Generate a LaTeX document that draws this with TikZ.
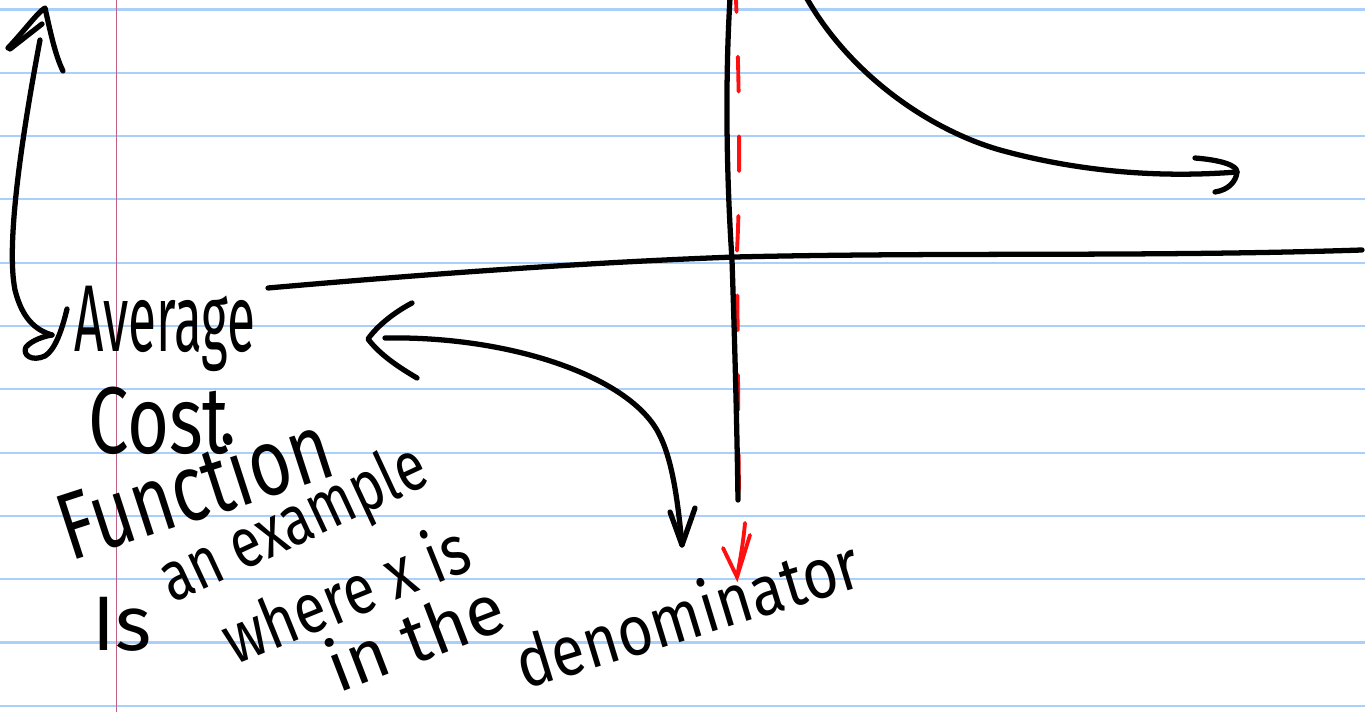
\documentclass[tikz,border=0pt]{standalone}
\usepackage{fontspec}
\setmainfont{Fira Sans}
\usetikzlibrary{arrows.meta,calc}
\definecolor{ruleblue}{HTML}{A8D0FA}
\definecolor{marginred}{HTML}{BF6286}
\definecolor{penred}{HTML}{FF1010}

\begin{document}
\begin{tikzpicture}[
    x=0.02cm, y=-0.02cm,
    ink/.style={line width=3pt, line cap=round, line join=round},
    redink/.style={line width=2.2pt, line cap=round, penred},
    ruled/.style={ruleblue, line width=1.2pt},
    hand/.style={font=\fontsize{40}{40}\selectfont, inner sep=0pt, anchor=base west},
    bighand/.style={hand, font=\fontsize{54}{54}\selectfont}
  ]
    \fill[white, use as bounding box] (0,0) rectangle (1365,712);

    % ruled paper
    \foreach \k in {0,...,11}
      \draw[ruled] (0,{9.5+63.3*\k}) -- (1365,{9.5+63.3*\k});
    \draw[marginred, line width=1.1pt] (116.5,0) -- (116.5,712);

    % handwritten note
    \node[bighand, xscale=.54] (avg) at (74,352) {Average};
    \node[bighand, xscale=.76] (cost) at (88,454) {Cost};
    \node[bighand, rotate=18, xscale=.76] (func) at (70,562) {Function};
    \node[hand, font=\fontsize{44}{44}\selectfont] (is) at (92,650) {Is};
    \node[hand, rotate=25, xscale=.78] (example) at (172,604) {an example};
    \node[hand, rotate=22, xscale=.82] (where) at (234,666) {where x is};
    \node[hand, rotate=21] (inthe) at (338,694) {in the};
    \node[hand, rotate=17, xscale=.86] (denom) at (524,690) {denominator};

    % asymptote (red, dashed) beside the y axis
    \draw[redink, dash pattern=on 19.8pt off 25.5pt, dash phase=13pt]
      (736,0) .. controls (740,100) and (740,200) .. (737,250) -- (739,500);

    % axes
    \draw[ink] (268,288) .. controls (450,272) and (600,262) .. (735,257)
      .. controls (950,252) and (1150,257) .. (1362,250);
    \draw[ink] (730,-2) .. controls (724,100) and (728,200) .. (732,260)
      .. controls (735,350) and (737,430) .. (738,500);

    % branch of the curve
    \coordinate (curveEnd) at (1237,172);
    \draw[ink] (806,-3) .. controls (850,75) and (930,130) .. (1000,150)
      .. controls (1080,172) and (1160,178) .. (curveEnd);
    \draw[ink] (1195,158) .. controls (1220,160) and (1237,165) .. (curveEnd)
      .. controls (1236,182) and (1228,190) .. (1215,192);

    % red arrow down to the label
    \coordinate (redTip) at (737,577);
    \draw[redink] (745,523) .. controls (743,545) and (740,560) .. (redTip);
    \draw[redink] (723,548) -- (redTip) -- (750,535);

    % double arrow along the left margin
    \coordinate (topTip) at (45,8);
    \coordinate (botTip) at (52,335);
    \draw[ink] (40,40) .. controls (25,120) and (5,240) .. (15,290)
      .. controls (22,318) and (35,330) .. (botTip);
    \draw[ink] (8,48) .. controls (25,30) and (38,12) .. (topTip)
      .. controls (50,30) and (55,55) .. (63,71);
    \draw[ink] (10,49) -- (42,24);
    \draw[ink] (67,309) .. controls (62,330) and (55,350) .. (45,356)
      .. controls (32,362) and (22,355) .. (26,347)
      .. controls (32,340) and (45,336) .. (botTip);

    % double arrow: average cost <-> x in the denominator
    \coordinate (leftTip) at (368,339);
    \coordinate (downTip) at (682,545);
    \draw[ink] (385,338) .. controls (500,336) and (610,370) .. (650,420)
      .. controls (668,442) and (676,480) .. (downTip);
    \draw[ink] (412,303) .. controls (395,312) and (378,325) .. (leftTip)
      .. controls (380,355) and (400,368) .. (417,378);
    \draw[ink] (670,512) -- (downTip) -- (695,508);
\end{tikzpicture}
\end{document}
